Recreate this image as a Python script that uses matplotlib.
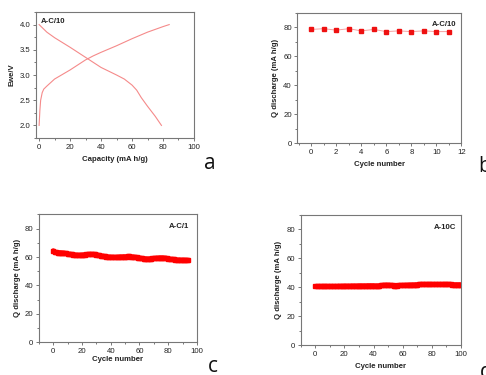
import matplotlib
matplotlib.use("Agg")
import matplotlib.pyplot as plt
from matplotlib.ticker import MultipleLocator, AutoMinorLocator, FormatStrFormatter

plt.rcParams['font.family'] = ['Liberation Sans', 'DejaVu Sans']

# (a) charge / discharge profiles at C/10
charge_cap = [0, 0.5, 1, 2, 3, 5, 10, 15, 20, 25, 30, 35, 40, 50, 60, 70, 80, 84]
charge_v = [2.0, 2.3, 2.5, 2.65, 2.72, 2.78, 2.92, 3.01, 3.1, 3.2, 3.3, 3.38, 3.45, 3.58, 3.72, 3.85, 3.96, 4.0]
dis_cap = [0, 5, 10, 20, 30, 40, 50, 55, 60, 63, 66, 70, 75, 79]
dis_v = [4.0, 3.85, 3.74, 3.55, 3.35, 3.15, 3.0, 2.92, 2.8, 2.7, 2.55, 2.38, 2.18, 2.0]

# (b) discharge capacity per cycle at C/10
cycles_b = list(range(12))
q_b = [78.5, 79, 78, 79, 77.5, 78.5, 77, 77.5, 77, 77.5, 77, 77]

# (c) discharge capacity per cycle at C/1
q_c = [64.5, 63.5, 63.3, 63.2, 63.2, 63.1, 63.0, 62.9, 62.7, 62.5,
       62.3, 62.1, 62.0, 61.8, 61.7, 61.6, 61.5, 61.4, 61.4, 61.4,
       61.5, 61.6, 61.7, 61.8, 61.9, 62.0, 62.0, 62.0, 61.9, 61.8,
       61.6, 61.4, 61.2, 61.0, 60.8, 60.6, 60.4, 60.3, 60.2, 60.1,
       60.0, 60.0, 59.9, 59.9, 59.9, 60.0, 60.1, 60.2, 60.2, 60.3,
       60.3, 60.3, 60.4, 60.4, 60.3, 60.2, 60.1, 59.9, 59.7, 59.5,
       59.3, 59.2, 59.0, 58.9, 58.9, 58.8, 58.8, 58.8, 58.9, 59.0,
       59.1, 59.2, 59.3, 59.4, 59.5, 59.5, 59.5, 59.4, 59.3, 59.1,
       58.9, 58.7, 58.5, 58.4, 58.3, 58.2, 58.1, 58.0, 58.0, 57.9,
       57.9, 57.9, 57.8, 57.8, 57.8]
cycles_c = list(range(len(q_c)))

# (d) discharge capacity per cycle at 10C
q_d = [40.5, 40.5, 40.5, 40.5, 40.5, 40.5, 40.5, 40.5, 40.5, 40.5,
       40.6, 40.6, 40.6, 40.6, 40.6, 40.6, 40.7, 40.7, 40.7, 40.7,
       40.8, 40.8, 40.8, 40.8, 40.8, 40.9, 40.9, 40.9, 40.9, 40.9,
       41.0, 41.0, 41.0, 41.0, 41.0, 41.0, 41.1, 41.1, 41.1, 41.1,
       41.1, 41.0, 41.0, 41.0, 41.1, 41.2, 41.3, 41.4, 41.5, 41.5,
       41.5, 41.4, 41.3, 41.2, 41.1, 41.1, 41.1, 41.2, 41.2, 41.3,
       41.3, 41.4, 41.4, 41.5, 41.5, 41.6, 41.6, 41.7, 41.7, 41.8,
       41.8, 41.9, 41.9, 42.0, 42.0, 42.0, 42.0, 41.9, 41.9, 41.9,
       41.9, 41.9, 41.9, 41.9, 41.9, 41.9, 41.9, 41.9, 41.9, 41.9,
       41.9, 41.9, 41.9, 41.9, 41.8, 41.8, 41.8, 41.8, 41.8, 41.8, 41.7]
cycles_d = list(range(len(q_d)))

FS = 5.6
SPINE = '#777777'
TXT = '#222222'


def style(ax, xmaj, ymaj):
    for s in ax.spines.values():
        s.set_color(SPINE)
        s.set_linewidth(0.8)
    ax.xaxis.set_major_locator(MultipleLocator(xmaj))
    ax.yaxis.set_major_locator(MultipleLocator(ymaj))
    ax.xaxis.set_minor_locator(AutoMinorLocator(2))
    ax.yaxis.set_minor_locator(AutoMinorLocator(2))
    ax.tick_params(which='both', direction='out', colors=SPINE, labelcolor=TXT,
                   labelsize=FS, width=0.7, pad=1.5)
    ax.tick_params(which='major', length=2.5)
    ax.tick_params(which='minor', length=1.5)
    ax.tick_params(top=False, right=False, which='both')


def dense_cycles(ax, x, y):
    # many closely spaced square markers merge into a thick band
    ax.plot(x, y, color='#ff0000', lw=3.4, solid_capstyle='round',
            solid_joinstyle='round', marker='s', ms=2.2,
            mfc='#ff0000', mec='#ff0000')


fig = plt.figure(figsize=(4.86, 3.75), dpi=100)

# a
ax = fig.add_axes([0.0741, 0.632, 0.325, 0.336])
ax.plot(charge_cap, charge_v, color='#f58a8a', lw=0.8)
ax.plot(dis_cap, dis_v, color='#f58a8a', lw=0.8)
ax.set_xlim(-2, 100)
ax.set_ylim(1.75, 4.25)
style(ax, 20, 0.5)
ax.yaxis.set_major_formatter(FormatStrFormatter('%.1f'))
ax.set_xlabel('Capacity (mA h/g)', fontsize=FS, fontweight='bold', color=TXT, labelpad=4)
ax.set_ylabel('Ewe/V', fontsize=FS, fontweight='bold', color=TXT, labelpad=3)
ax.text(0.03, 0.95, 'A-C/10', transform=ax.transAxes, fontsize=FS, fontweight='bold',
        color=TXT, va='top', ha='left')

# b
ax = fig.add_axes([0.612, 0.618, 0.3374, 0.348])
ax.plot(cycles_b, q_b, color='#f7a0a0', lw=0.7, marker='s', ms=2.6,
        mfc='#ee1111', mec='#ee1111')
ax.set_xlim(-1.1, 12)
ax.set_ylim(0, 90)
style(ax, 2, 20)
ax.set_xlabel('Cycle number', fontsize=FS, fontweight='bold', color=TXT, labelpad=4)
ax.set_ylabel('Q discharge (mA h/g)', fontsize=FS, fontweight='bold', color=TXT, labelpad=3)
ax.text(0.97, 0.94, 'A-C/10', transform=ax.transAxes, fontsize=FS, fontweight='bold',
        color=TXT, va='top', ha='right')

# c
ax = fig.add_axes([0.0802, 0.0872, 0.325, 0.341])
dense_cycles(ax, cycles_c, q_c)
ax.set_xlim(-10, 100)
ax.set_ylim(0, 90)
style(ax, 20, 20)
ax.set_xlabel('Cycle number', fontsize=FS, fontweight='bold', color=TXT, labelpad=1)
ax.set_ylabel('Q discharge (mA h/g)', fontsize=FS, fontweight='bold', color=TXT, labelpad=3)
ax.text(0.95, 0.93, 'A-C/1', transform=ax.transAxes, fontsize=FS, fontweight='bold',
        color=TXT, va='top', ha='right')

# d
ax = fig.add_axes([0.6187, 0.08, 0.330, 0.3467])
dense_cycles(ax, cycles_d, q_d)
ax.set_xlim(-10, 100)
ax.set_ylim(0, 90)
style(ax, 20, 20)
ax.set_xlabel('Cycle number', fontsize=FS, fontweight='bold', color=TXT, labelpad=4)
ax.set_ylabel('Q discharge (mA h/g)', fontsize=FS, fontweight='bold', color=TXT, labelpad=3)
ax.text(0.97, 0.93, 'A-10C', transform=ax.transAxes, fontsize=FS, fontweight='bold',
        color=TXT, va='top', ha='right')

# panel letters
letter_kw = dict(fontsize=15, color='#111111', family=['Open Sans', 'DejaVu Sans'])
fig.text(0.432, 0.565, 'a', ha='center', va='center', **letter_kw)
fig.text(0.984, 0.555, 'b', ha='left', va='center', **letter_kw)
fig.text(0.438, 0.024, 'c', ha='center', va='center', **letter_kw)
fig.text(0.988, 0.006, 'd', ha='left', va='center', **letter_kw)

fig.savefig('out.png', dpi=100, facecolor='white')
